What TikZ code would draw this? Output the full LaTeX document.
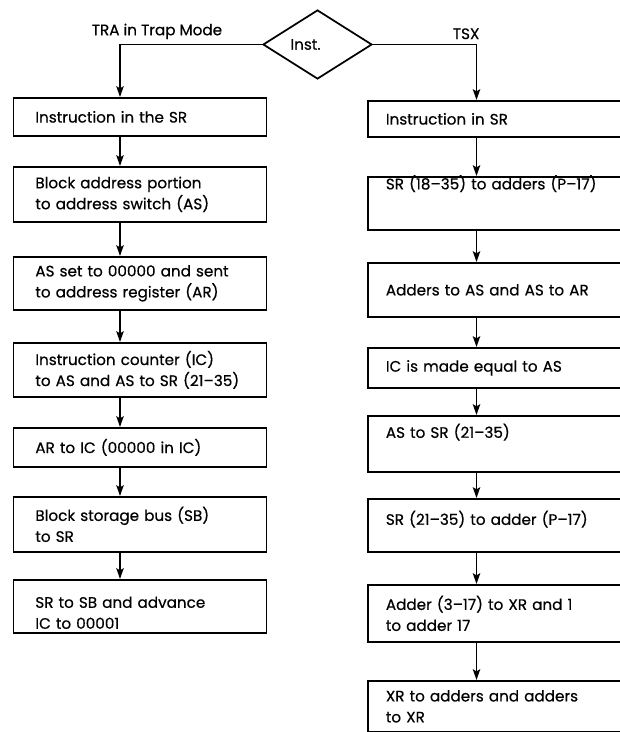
\documentclass[tikz,border=0pt]{standalone}
\usepackage{fontspec}
\setmainfont{Poppins}[FakeBold=0.5]
\usetikzlibrary{arrows.meta, shapes.geometric}

\begin{document}
\begin{tikzpicture}[x=0.75pt, y=-0.75pt, line width=1.3pt,
    >={Stealth[length=8pt, width=5.5pt, inset=1.5pt]},
    every node/.style={font=\fontsize{11.4}{15.75}\selectfont},
    box/.style={draw, anchor=north west, inner sep=0pt, align=left},
    lbox/.style={box, text width=189.75pt, execute at begin node={\leftskip 16.5pt\relax}},
    rbox/.style={box, text width=210pt, execute at begin node={\leftskip 13.5pt\relax}}]
    \clip (0,0) rectangle (620,732);

    % Decision
    \node[draw, diamond, minimum width=81.75pt, minimum height=51.75pt, inner sep=0pt] (inst) at (317.5,44.5) {Inst.\hspace*{18pt}};
    \coordinate (lx) at (120,0);
    \coordinate (rx) at (476.5,0);

    % TRA branch
    \node[lbox, minimum height=28.5pt] (l1) at (12.5,97) {Instruction in the SR};
    \node[lbox, minimum height=41.25pt] (l2) at (12.5,166) {Block address portion\\to address switch (AS)};
    \node[lbox, minimum height=39.75pt] (l3) at (12.5,256) {AS set to 00000 and sent\\to address register (AR)};
    \node[lbox, minimum height=40.5pt] (l4) at (12.5,342) {Instruction counter (IC)\\to AS and AS to SR (21--35)};
    \node[lbox, minimum height=29.25pt] (l5) at (12.5,427) {AR to IC (00000 in IC)};
    \node[lbox, minimum height=41.25pt] (l6) at (12.5,496) {Block storage bus (SB)\\to SR};
    \node[lbox, minimum height=39.75pt, text height=18pt] (l7) at (12.5,579) {SR to SB and advance\\IC to 00001};

    % TSX branch
    \node[rbox, minimum height=27pt] (r1) at (367,100) {Instruction in SR};
    \node[rbox, minimum height=39.75pt, text height=8pt, text depth=29pt] (r2) at (367,176) {SR (18--35) to adders (P--17)};
    \node[rbox, minimum height=40.5pt] (r3) at (367,262) {Adders to AS and AS to AR};
    \node[rbox, minimum height=30pt] (r4) at (367,347) {IC is made equal to AS};
    \node[rbox, minimum height=42pt, text height=8pt, text depth=17pt] (r5) at (367,415) {AS to SR (21--35)};
    \node[rbox, minimum height=39.75pt, text height=8pt, text depth=8.75pt] (r6) at (367,498) {SR (21--35) to adder (P--17)};
    \node[rbox, minimum height=42.75pt] (r7) at (367,584) {Adder (3--17) to XR and 1\\to adder 17};
    \node[rbox, minimum height=38.25pt] (r8) at (367,680) {XR to adders and adders\\to XR};

    % Arrows
    \draw[->] (inst.west) -| node[above, pos=.37] (tra) {TRA in Trap Mode} (lx |- l1.north);
    \draw[->] (inst.east) -| node[above, pos=.45] (tsx) {TSX} (rx |- r1.north);
    \foreach \a/\b in {l1/l2, l2/l3, l3/l4, l4/l5, l5/l6, l6/l7}
        \draw[->] (lx |- \a.south) -- (lx |- \b.north);
    \foreach \a/\b in {r1/r2, r2/r3, r3/r4, r4/r5, r5/r6, r6/r7, r7/r8}
        \draw[->] (rx |- \a.south) -- (rx |- \b.north);
\end{tikzpicture}
\end{document}
